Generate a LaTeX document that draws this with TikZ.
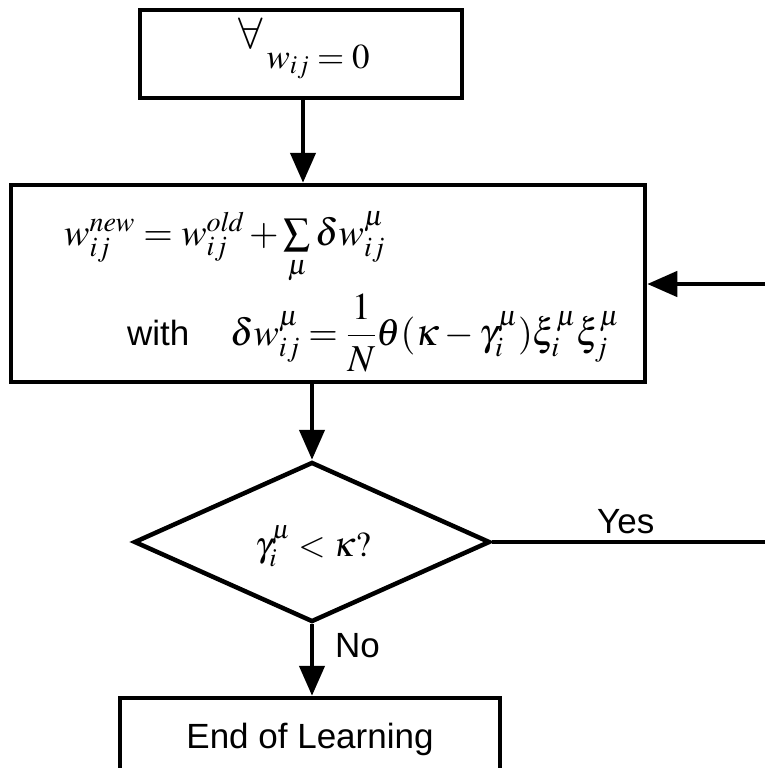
\documentclass[tikz,border=0pt]{standalone}
\usepackage{mathptmx}
\usepackage{fontspec}
\setmainfont{Liberation Serif}
\setsansfont{Liberation Sans}
\usetikzlibrary{arrows.meta,shapes.geometric}
\begin{document}
\begin{tikzpicture}[x=1pt,y=-1pt,
  box/.style={draw, line width=4.5pt, inner sep=0pt},
  arr/.style={-{Triangle[length=30pt,width=25pt]}, line width=4.5pt},
  conn/.style={line width=4.5pt},
  lbl/.style={font=\fontsize{35}{40}\sffamily, inner sep=0pt},
  mth/.style={font=\fontsize{38}{44}\selectfont, inner sep=0pt},
  mths/.style={font=\fontsize{35}{40}\selectfont, inner sep=0pt}]
\useasboundingbox (0,0) rectangle (765,768);
% boxes
\node[box, minimum width=322pt, minimum height=88pt] (init) at (301,54) {};
\node[mths, anchor=base] (inittxt) at (304,68)
  {\raisebox{20pt}{\fontsize{44}{48}\selectfont$\forall$}$\,w_{ij}=0$};
\node[box, minimum width=634pt, minimum height=197pt] (update) at (328,283.5) {};
\node[mth, anchor=base west] (eq1) at (64,245)
  {$w_{ij}^{\mathit{new}} = w_{ij}^{\mathit{old}} + \sum\limits_{\mu}\delta w_{ij}^{\mu}$};
\node[lbl, anchor=base west] (with) at (127,345) {with};
\node[mth, anchor=base west] (eq2) at (230,345)
  {$\displaystyle\delta w_{ij}^{\mu} = \frac{1}{N}\theta(\kappa-\gamma_i^{\mu})\xi_i^{\mu}\xi_j^{\mu}$};
\node[draw, shape=diamond, line width=4.5pt, inner sep=0pt,
  minimum width=356pt, minimum height=160pt] (test) at (312,542) {};
\node[mths] (testtxt) at (313,546) {$\gamma_i^{\mu} < \kappa?$};
\node[box, minimum width=380pt, minimum height=100pt] (endbox) at (310,748) {};
\node[lbl, anchor=base] (endtxt) at (310,748) {End of Learning};
% free ends
\coordinate (yesend) at (765,542);
\coordinate (backstart) at (765,284);
% connectors
\draw[arr] (init.south -| 303,0) -- (update.north -| 303,0);
\draw[arr] (update.south -| test.north) -- (test.north);
\draw[conn] (test.east) -- (yesend);
\node[lbl, anchor=base west] (yes) at (597,533) {Yes};
\draw[arr] (backstart) -- (update.east |- backstart);
\draw[arr] (test.south) -- (endbox.north -| test.south);
\node[lbl, anchor=base west] (no) at (335,657) {No};
\end{tikzpicture}
\end{document}
